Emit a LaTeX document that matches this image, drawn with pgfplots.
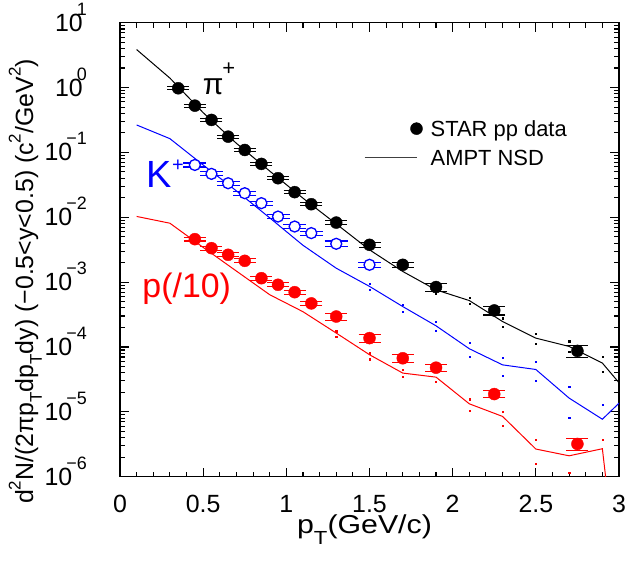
\documentclass[border=0pt]{standalone}
\usepackage{pgfplots}
\pgfplotsset{compat=1.18}
\usepackage{pgfplotstable}
\usepackage{fontspec}
\setmainfont{Liberation Sans}

\newcommand\ex[1]{10\kern-6bp\smash{\raisebox{16bp}{\fontsize{18}{18}\selectfont #1}}}
\newcommand\sps[1]{\raisebox{0.5em}{\fontsize{17}{17}\selectfont #1}}
\newcommand\sbs[1]{\raisebox{-0.35em}{\fontsize{17}{17}\selectfont #1}}

\pgfplotstableread{
x y e
0.35 0.975 0.049
0.45 0.526 0.026
0.55 0.317 0.016
0.65 0.175 0.0088
0.75 0.109 0.0055
0.85 0.0665 0.0033
0.95 0.040 0.002
1.05 0.0244 0.0012
1.15 0.0159 0.0008
1.30 0.00828 0.00066
1.50 0.00376 0.00038
1.70 0.00185 0.000185
1.90 8.4e-4 1.26e-4
2.25 3.66e-4 5.5e-5
2.75 8.7e-5 1.9e-5
}\pion

\pgfplotstableread{
x y e
0.45 0.0641 0.0045
0.55 0.0467 0.0033
0.65 0.0335 0.0023
0.75 0.0235 0.0016
0.85 0.0165 0.0012
0.95 0.01026 0.0007
1.05 0.0072 0.0005
1.15 0.0057 0.0004
1.30 0.0039 0.0004
1.50 0.00185 0.00017
}\kaon

\pgfplotstableread{
x y e
0.45 0.0046 0.0003
0.55 0.00334 0.00023
0.65 0.00264 0.00018
0.75 0.00213 0.00015
0.85 0.00115 0.00008
0.95 0.00091 0.000064
1.05 0.0007 0.00005
1.15 0.00047 0.000033
1.30 2.95e-4 3.8e-5
1.50 1.37e-4 1.8e-5
1.70 6.7e-5 1.0e-5
1.90 4.8e-5 6.2e-6
2.25 1.88e-5 2.4e-6
2.75 3.2e-6 6.4e-7
}\proton

\pgfplotstableread{
x y
0.1 3.85
0.3 1.40
0.5 0.41
0.7 0.138
0.9 0.0516
1.1 0.0197
1.3 0.0079
1.5 0.00315
1.7 0.00146
1.9 7.6e-4
2.1 5.2e-4
2.3 2.47e-4
2.5 1.37e-4
2.7 1.02e-4
2.9 5.65e-5
3.1 1.4e-5
}\amptpi

\pgfplotstableread{
x y
0.1 0.265
0.3 0.163
0.5 0.064
0.7 0.0255
0.9 0.0098
1.1 0.0037
1.3 0.00164
1.5 8.6e-4
1.7 4.2e-4
1.9 2.12e-4
2.1 9.4e-5
2.3 5.3e-5
2.5 4.5e-5
2.7 1.63e-5
2.9 7.7e-6
3.1 2.4e-5
}\amptk

\pgfplotstableread{
x y
0.1 0.0103
0.3 0.0081
0.5 0.00343
0.7 0.00148
0.9 6.4e-4
1.1 3.5e-4
1.3 1.64e-4
1.5 7.6e-5
1.7 3.96e-5
1.9 3.43e-5
2.1 1.33e-5
2.3 8.5e-6
2.5 2.67e-6
2.7 2.1e-6
2.9 2.7e-6
3.1 1e-10
}\amptp

\pgfplotstableread{
x y
1.9 8.5e-4
1.9 6.6e-4
2.1 5.79e-4
2.1 4.68e-4
2.3 2.78e-4
2.3 2.07e-4
2.5 1.6e-4
2.5 1.11e-4
2.7 1.23e-4
2.7 8.5e-5
2.9 7.1e-5
2.9 4.15e-5
}\dotspi

\pgfplotstableread{
x y
1.5 9.4e-4
1.5 7.6e-4
1.7 4.47e-4
1.7 3.48e-4
1.9 2.47e-4
1.9 1.8e-4
2.1 1.17e-4
2.1 7.1e-5
2.3 6.8e-5
2.3 3.64e-5
2.5 5.85e-5
2.5 3.05e-5
2.7 2.44e-5
2.7 8.1e-6
2.9 1.3e-5
}\dotsk

\pgfplotstableread{
x y
1.3 1.75e-4
1.3 1.45e-4
1.5 8.05e-5
1.5 6.5e-5
1.7 4.46e-5
1.7 3.44e-5
1.9 2.94e-5
2.1 1.57e-5
2.1 1.05e-5
2.3 1.01e-5
2.3 6.2e-6
2.5 3.7e-6
2.5 1.58e-6
2.7 1.14e-6
2.9 3.7e-6
}\dotsp

\begin{document}
\begin{tikzpicture}
\begin{axis}[
  name=ax,
  width=499bp, height=454bp, scale only axis,
  xmin=0, xmax=3, ymin=1e-6, ymax=10, ymode=log,
  xtick={0,0.5,1,1.5,2,2.5,3},
  xticklabels={0,0.5,1,1.5,2,2.5,3},
  minor x tick num=4,
  ytick={1e-6,1e-5,1e-4,1e-3,1e-2,1e-1,1,10},
  yticklabels={\ex{−6},\ex{−5},\ex{−4},\ex{−3},\ex{−2},\ex{−1},\ex{0},\ex{1}},
  tick pos=both, tick align=inside,
  major tick length=9bp, minor tick length=5bp,
  tick style={black, line width=1.1bp},
  axis line style={line width=1.3bp},
  ticklabel style={font=\fontsize{25}{25}\selectfont},
  xticklabel style={inner sep=0pt, yshift=-18.5bp, anchor=north},
  yticklabel style={inner sep=0pt, xshift=-33bp, anchor=east},
  xlabel={\scalebox{1.17}[1]{p\raisebox{-0.45em}{\fontsize{19}{19}\selectfont T}(GeV/c)}},
  xlabel style={at={(axis description cs:0.49,-0.1247)}, anchor=base, font=\fontsize{26}{26}\selectfont},
  ylabel={d\sps{2}N/(2πp\sbs{T}dp\sbs{T}dy) (−0.5<y<0.5) (c\sps{2}/GeV\sps{2})},
  ylabel style={at={(axis description cs:-0.174,0.43)}, anchor=base, font=\fontsize{25}{25}\selectfont},
  legend style={at={(axis description cs:0.489,0.784)}, anchor=north west, draw=none, fill=none,
    inner sep=0pt, outer sep=0pt, font=\fontsize{22}{22}\selectfont, row sep=12.4bp, column sep=8bp,
    cells={anchor=base west}, nodes={inner sep=0pt}},
]
% kaon data (drawn first so the line shows through)
\addplot[forget plot, only marks, blue, mark=*, mark size=5.5bp,
  mark options={fill=white, draw=blue, line width=1.3bp},
  error bars/.cd, y dir=both, y explicit,
  error bar style={line width=1.1bp, blue},
  error mark options={rotate=90, mark size=11.5bp, line width=1.1bp, blue}]
  table[x=x, y=y, y error=e]{\kaon};
% AMPT lines
\addplot[forget plot, black, line width=1bp] table[x=x,y=y]{\amptpi};
\addplot[forget plot, blue, line width=1bp] table[x=x,y=y]{\amptk};
\addplot[forget plot, red, line width=1bp] table[x=x,y=y]{\amptp};
\addplot[forget plot, only marks, black, mark=square*, mark size=0.6bp] table[x=x,y=y]{\dotspi};
\addplot[forget plot, only marks, blue, mark=square*, mark size=0.6bp] table[x=x,y=y]{\dotsk};
\addplot[forget plot, only marks, red, mark=square*, mark size=0.6bp] table[x=x,y=y]{\dotsp};
% pion data
\addplot[forget plot, only marks, black, mark=*, mark size=6bp,
  error bars/.cd, y dir=both, y explicit,
  error bar style={line width=1.1bp, black},
  error mark options={rotate=90, mark size=11bp, line width=1.1bp, black}]
  table[x=x, y=y, y error=e]{\pion};
% proton data
\addplot[forget plot, only marks, red, mark=*, mark size=6bp,
  error bars/.cd, y dir=both, y explicit,
  error bar style={line width=1.1bp, red},
  error mark options={rotate=90, mark size=11bp, line width=1.1bp, red}]
  table[x=x, y=y, y error=e]{\proton};

\addlegendimage{legend image code/.code={\fill[black] (52bp,8bp) circle (6bp);}}
\addlegendentry{STAR pp data}
\addlegendimage{legend image code/.code={\draw[black!75, line width=1bp] (0bp,8bp) -- (52bp,8bp);}}
\addlegendentry{AMPT NSD}

\node[anchor=base west, font=\fontsize{30}{30}\selectfont] at (axis cs:0.477,0.769)
  {π\kern-1bp\raisebox{19bp}{\fontsize{22}{22}\selectfont +}};
\node[anchor=base west, text=blue, font=\fontsize{38}{38}\selectfont] at (axis cs:0.140,0.0291)
  {K\raisebox{16bp}{\fontsize{20}{20}\selectfont +}};
\node[anchor=base west, text=red, font=\fontsize{34}{34}\selectfont] at (axis cs:0.114,5.79e-4)
  {p(/10)};
\end{axis}
\pgfresetboundingbox
\path[use as bounding box] ([shift={(-120bp,-86.3bp)}]ax.south west) rectangle ([shift={(7bp,22.7bp)}]ax.north east);
\end{tikzpicture}
\end{document}
